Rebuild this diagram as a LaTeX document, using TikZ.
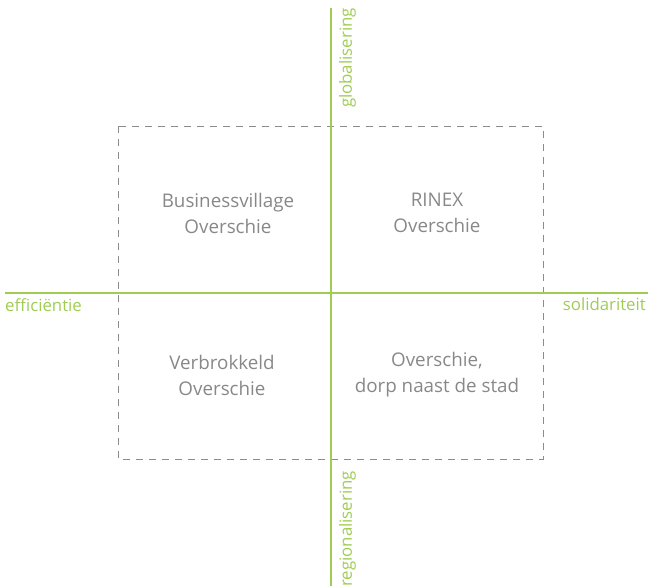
\documentclass[tikz,border=0pt]{standalone}
\usepackage{fontspec}
\setmainfont{Open Sans}
\definecolor{axisgreen}{RGB}{160,204,84}
\definecolor{boxgrey}{RGB}{140,140,142}
\definecolor{textgrey}{RGB}{136,136,138}
\begin{document}
\begin{tikzpicture}[x=1pt,y=-1pt,
  axisline/.style={draw=axisgreen,line width=1.3pt},
  frame/.style={draw=boxgrey,line width=0.9pt,dash pattern=on 7pt off 6pt},
  axislabel/.style={text=axisgreen,font=\fontsize{16.8}{18}\selectfont,inner sep=0pt},
  quadlabel/.style={text=textgrey,font=\fontsize{18.8}{26}\selectfont,align=center,inner sep=0pt}]
\useasboundingbox (0,0) rectangle (648,586);
% dashed scenario frame
\draw[frame] (118,126) rectangle (543,459);
% axes
\coordinate (top) at (331,8);
\coordinate (bottom) at (331,590);
\coordinate (left) at (5,293);
\coordinate (right) at (648,293);
\draw[axisline] (top) -- (bottom);
\draw[axisline] (left) -- (right);
% axis labels
\node[axislabel,anchor=north west] (eff) at (5,298) {efficiëntie};
\node[axislabel,anchor=north east] (sol) at (646,298) {solidariteit};
\node[axislabel,rotate=90,anchor=north east] (glob) at (339,8) {globalisering};
\node[axislabel,rotate=90,anchor=north west] (reg) at (339,587) {regionalisering};
% quadrant scenarios
\node[quadlabel] (q1) at (228,213) {Businessvillage\\Overschie};
\node[quadlabel] (q2) at (437,213) {RINEX\\Overschie};
\node[quadlabel] (q3) at (222,375) {Verbrokkeld\\Overschie};
\node[quadlabel] (q4) at (437,375) {Overschie,\\dorp naast de stad};
\end{tikzpicture}
\end{document}
